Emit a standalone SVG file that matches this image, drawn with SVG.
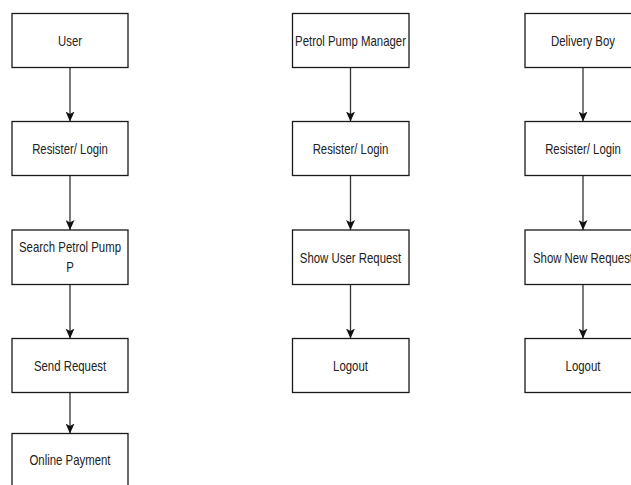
<svg xmlns="http://www.w3.org/2000/svg" width="631" height="485" viewBox="0 0 631 485">
<style>
.box{fill:#fff;stroke:#1a1a1a;stroke-width:1.3}
.lbl{font-family:"Liberation Sans",Arial,sans-serif;font-size:15px;fill:#222;text-anchor:middle}
.edge{fill:none;stroke:#333;stroke-width:1.3}
</style>
<defs>
<marker id="arr" markerUnits="userSpaceOnUse" markerWidth="10" markerHeight="9" refX="10" refY="4.5" orient="auto">
<path d="M0,0 L10,4.5 L0,9 L2.5,4.5 z" fill="#111"/>
</marker>
</defs>
<rect width="631" height="485" fill="#fff"/>
<g id="connectors">
<line class="edge" x1="70" y1="67.5" x2="70" y2="121.5" marker-end="url(#arr)"/>
<line class="edge" x1="70" y1="175.5" x2="70" y2="230" marker-end="url(#arr)"/>
<line class="edge" x1="70" y1="284.5" x2="70" y2="338.5" marker-end="url(#arr)"/>
<line class="edge" x1="70" y1="392.5" x2="70" y2="433.5" marker-end="url(#arr)"/>
<line class="edge" x1="350.5" y1="67.5" x2="350.5" y2="121.5" marker-end="url(#arr)"/>
<line class="edge" x1="350.5" y1="175.5" x2="350.5" y2="230" marker-end="url(#arr)"/>
<line class="edge" x1="350.5" y1="284.5" x2="350.5" y2="338.5" marker-end="url(#arr)"/>
<line class="edge" x1="583" y1="67.5" x2="583" y2="121.5" marker-end="url(#arr)"/>
<line class="edge" x1="583" y1="175.5" x2="583" y2="230" marker-end="url(#arr)"/>
<line class="edge" x1="583" y1="284.5" x2="583" y2="338.5" marker-end="url(#arr)"/>
</g>
<g id="user"><rect class="box" x="12" y="13.5" width="116" height="54"/><text class="lbl" x="70" y="45.5" textLength="24" lengthAdjust="spacingAndGlyphs">User</text></g>
<g id="register1"><rect class="box" x="12" y="121.5" width="116" height="54"/><text class="lbl" x="70" y="153.5" textLength="75.7" lengthAdjust="spacingAndGlyphs">Resister/ Login</text></g>
<g id="search"><rect class="box" x="12" y="230" width="116" height="54.5"/><text class="lbl" x="70" y="251.5" textLength="102" lengthAdjust="spacingAndGlyphs">Search Petrol Pump</text><text class="lbl" x="70" y="271.5" textLength="7.6" lengthAdjust="spacingAndGlyphs">P</text></g>
<g id="sendreq"><rect class="box" x="12" y="338.5" width="116" height="54"/><text class="lbl" x="70" y="370.5" textLength="72.2" lengthAdjust="spacingAndGlyphs">Send Request</text></g>
<g id="payment"><rect class="box" x="12" y="433.5" width="116" height="54"/><text class="lbl" x="70" y="465" textLength="81.1" lengthAdjust="spacingAndGlyphs">Online Payment</text></g>
<g id="manager"><rect class="box" x="292.5" y="13.5" width="116.5" height="54"/><text class="lbl" x="350.5" y="45.5" textLength="110.9" lengthAdjust="spacingAndGlyphs">Petrol Pump Manager</text></g>
<g id="register2"><rect class="box" x="292.5" y="121.5" width="116.5" height="54"/><text class="lbl" x="350.5" y="153.5" textLength="75.7" lengthAdjust="spacingAndGlyphs">Resister/ Login</text></g>
<g id="showuser"><rect class="box" x="292.5" y="230" width="116.5" height="54.5"/><text class="lbl" x="350.5" y="262.5" textLength="101.4" lengthAdjust="spacingAndGlyphs">Show User Request</text></g>
<g id="logout2"><rect class="box" x="292.5" y="338.5" width="116.5" height="54"/><text class="lbl" x="350.5" y="370.5" textLength="34.9" lengthAdjust="spacingAndGlyphs">Logout</text></g>
<g id="delivery"><rect class="box" x="525" y="13.5" width="116" height="54"/><text class="lbl" x="583" y="45.5" textLength="64" lengthAdjust="spacingAndGlyphs">Delivery Boy</text></g>
<g id="register3"><rect class="box" x="525" y="121.5" width="116" height="54"/><text class="lbl" x="583" y="153.5" textLength="75.7" lengthAdjust="spacingAndGlyphs">Resister/ Login</text></g>
<g id="shownew"><rect class="box" x="525" y="230" width="116" height="54.5"/><text class="lbl" x="583" y="262.5" textLength="100.1" lengthAdjust="spacingAndGlyphs">Show New Request</text></g>
<g id="logout3"><rect class="box" x="525" y="338.5" width="116" height="54"/><text class="lbl" x="583" y="370.5" textLength="34.9" lengthAdjust="spacingAndGlyphs">Logout</text></g>
</svg>
